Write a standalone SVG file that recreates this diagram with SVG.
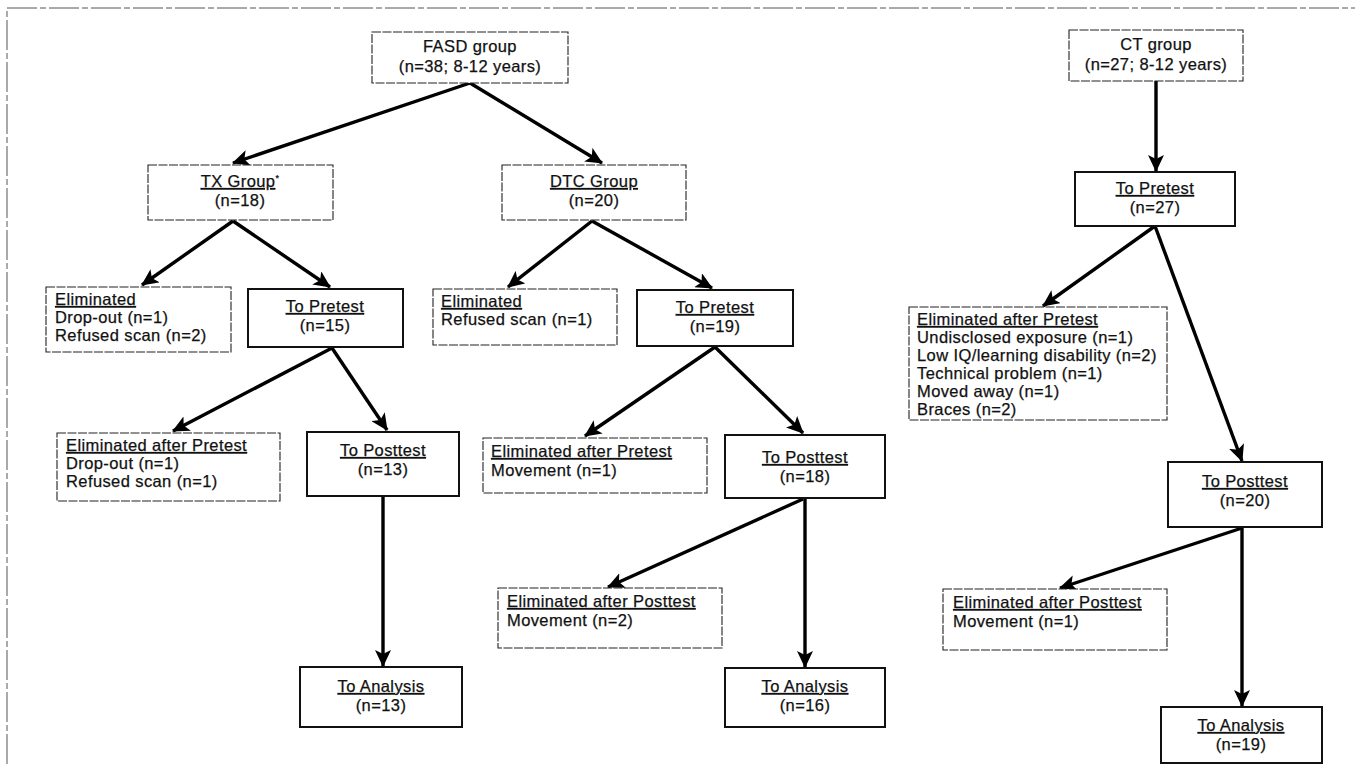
<svg xmlns="http://www.w3.org/2000/svg" width="1355" height="764" viewBox="0 0 1355 764">
<style>
text{font-family:"Liberation Sans",Arial,sans-serif;font-size:16.5px;letter-spacing:0.4px;fill:#111;stroke:#111;stroke-width:0.25}
.c{text-anchor:middle}
.u{text-decoration:underline}
.thin{fill:#fff;stroke:#222;stroke-width:1.1;stroke-dasharray:9 1.5}
.thick{fill:#fff;stroke:#111;stroke-width:2}
.frame{fill:none;stroke:#555;stroke-width:1;stroke-dasharray:30 3 6 3}
.arr{stroke:#000;stroke-width:3.4;fill:none;marker-end:url(#ah)}
</style>
<defs>
<marker id="ah" markerUnits="userSpaceOnUse" markerWidth="18" markerHeight="16" refX="16" refY="8" orient="auto">
<path d="M0,0 L17,8 L0,16 L4,8 Z" fill="#000"/>
</marker>
</defs>
<rect width="1355" height="764" fill="#fff"/>
<path class="frame" d="M7,764 L7,8 L1355,8"/>
<g id="connectors">
<line class="arr" x1="470" y1="83" x2="233" y2="163"/>
<line class="arr" x1="470" y1="83" x2="602" y2="163"/>
<line class="arr" x1="233" y1="221" x2="142" y2="285"/>
<line class="arr" x1="233" y1="221" x2="330" y2="287"/>
<line class="arr" x1="592" y1="221" x2="508" y2="287"/>
<line class="arr" x1="592" y1="221" x2="712" y2="288"/>
<line class="arr" x1="332" y1="348" x2="173" y2="431"/>
<line class="arr" x1="332" y1="348" x2="387" y2="430"/>
<line class="arr" x1="715" y1="347" x2="585" y2="436"/>
<line class="arr" x1="715" y1="347" x2="803" y2="433"/>
<line class="arr" x1="383" y1="496" x2="383" y2="666"/>
<line class="arr" x1="803" y1="499" x2="608" y2="587"/>
<line class="arr" x1="805" y1="499" x2="805" y2="667"/>
<line class="arr" x1="1156" y1="81" x2="1156" y2="171"/>
<line class="arr" x1="1155" y1="226" x2="1043" y2="306"/>
<line class="arr" x1="1155" y1="226" x2="1242" y2="461"/>
<line class="arr" x1="1242" y1="528" x2="1060" y2="588"/>
<line class="arr" x1="1242" y1="528" x2="1242" y2="706"/>
</g>
<g id="fasd"><rect class="thin" x="372" y="32" width="196" height="51"/>
<text class="c" x="470" y="52">FASD group</text><text class="c" x="470" y="72">(n=38; 8-12 years)</text></g>
<g id="tx"><rect class="thin" x="148" y="165" width="185" height="55"/>
<text class="c" x="240" y="187"><tspan class="u">TX Group</tspan><tspan font-size="9" dy="-6">*</tspan></text><text class="c" x="240" y="206">(n=18)</text></g>
<g id="dtc"><rect class="thin" x="502" y="165" width="184" height="55"/>
<text class="c" x="594" y="187"><tspan class="u">DTC Group</tspan></text><text class="c" x="594" y="206">(n=20)</text></g>
<g id="tx-elim"><rect class="thin" x="46" y="287" width="185" height="65"/>
<text x="55" y="305" class="u">Eliminated</text><text x="55" y="323">Drop-out (n=1)</text><text x="55" y="341">Refused scan (n=2)</text></g>
<g id="tx-pretest"><rect class="thick" x="248" y="289" width="155" height="58"/>
<text class="c u" x="325" y="312">To Pretest</text><text class="c" x="325" y="331">(n=15)</text></g>
<g id="dtc-elim"><rect class="thin" x="433" y="289" width="184" height="56"/>
<text x="441" y="307" class="u">Eliminated</text><text x="441" y="325">Refused scan (n=1)</text></g>
<g id="dtc-pretest"><rect class="thick" x="637" y="290" width="156" height="56"/>
<text class="c u" x="715" y="313">To Pretest</text><text class="c" x="715" y="332">(n=19)</text></g>
<g id="tx-elim-pre"><rect class="thin" x="57" y="433" width="223" height="68"/>
<text x="66" y="451" class="u">Eliminated after Pretest</text><text x="66" y="469">Drop-out (n=1)</text><text x="66" y="487">Refused scan (n=1)</text></g>
<g id="tx-posttest"><rect class="thick" x="307" y="432" width="152" height="64"/>
<text class="c u" x="383" y="456">To Posttest</text><text class="c" x="383" y="475">(n=13)</text></g>
<g id="dtc-elim-pre"><rect class="thin" x="483" y="438" width="224" height="55"/>
<text x="491" y="457" class="u">Eliminated after Pretest</text><text x="491" y="476">Movement (n=1)</text></g>
<g id="dtc-posttest"><rect class="thick" x="725" y="435" width="160" height="63"/>
<text class="c u" x="805" y="463">To Posttest</text><text class="c" x="805" y="482">(n=18)</text></g>
<g id="dtc-elim-post"><rect class="thin" x="498" y="588" width="224" height="60"/>
<text x="507" y="607" class="u">Eliminated after Posttest</text><text x="507" y="626">Movement (n=2)</text></g>
<g id="tx-analysis"><rect class="thick" x="300" y="667" width="162" height="60"/>
<text class="c u" x="381" y="692">To Analysis</text><text class="c" x="381" y="711">(n=13)</text></g>
<g id="dtc-analysis"><rect class="thick" x="725" y="668" width="160" height="59"/>
<text class="c u" x="805" y="692">To Analysis</text><text class="c" x="805" y="711">(n=16)</text></g>
<g id="ct"><rect class="thin" x="1069" y="30" width="174" height="51"/>
<text class="c" x="1156" y="50">CT group</text><text class="c" x="1156" y="70">(n=27; 8-12 years)</text></g>
<g id="ct-pretest"><rect class="thick" x="1075" y="172" width="160" height="54"/>
<text class="c u" x="1155" y="194">To Pretest</text><text class="c" x="1155" y="213">(n=27)</text></g>
<g id="ct-elim-pre"><rect class="thin" x="909" y="307" width="258" height="113"/>
<text x="917" y="325" class="u">Eliminated after Pretest</text><text x="917" y="343">Undisclosed exposure (n=1)</text><text x="917" y="361">Low IQ/learning disability (n=2)</text><text x="917" y="379">Technical problem (n=1)</text><text x="917" y="397">Moved away (n=1)</text><text x="917" y="415">Braces (n=2)</text></g>
<g id="ct-posttest"><rect class="thick" x="1168" y="462" width="154" height="65"/>
<text class="c u" x="1245" y="487">To Posttest</text><text class="c" x="1245" y="506">(n=20)</text></g>
<g id="ct-elim-post"><rect class="thin" x="943" y="589" width="224" height="61"/>
<text x="953" y="608" class="u">Eliminated after Posttest</text><text x="953" y="627">Movement (n=1)</text></g>
<g id="ct-analysis"><rect class="thick" x="1161" y="707" width="161" height="56"/>
<text class="c u" x="1241" y="731">To Analysis</text><text class="c" x="1241" y="750">(n=19)</text></g>
</svg>
